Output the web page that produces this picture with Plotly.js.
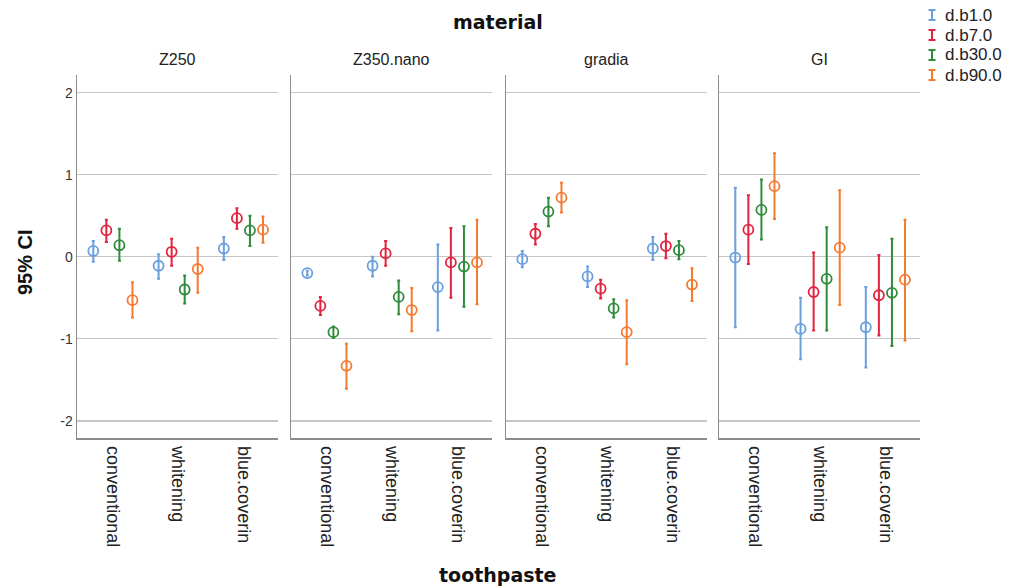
<!DOCTYPE html>
<html>
<head>
<meta charset="utf-8">
<script src="https://cdn.plot.ly/plotly-3.0.1.min.js"></script>
<style>
  html, body { margin: 0; padding: 0; background: #ffffff; }
  #chart { width: 1012px; height: 586px; }
</style>
</head>
<body>
<div id="chart"></div>
<script>
// Panels (material) and categories (toothpaste)
const materials = ['Z250', 'Z350.nano', 'gradia', 'GI'];
const toothpastes = ['conventional', 'whitening', 'blue.coverin'];
const seriesNames = ['d.b1.0', 'd.b7.0', 'd.b30.0', 'd.b90.0'];
const seriesColors = ['#6b9fde', '#e3223f', '#2f8b3c', '#f47a32'];

// Means, ordered material by material, toothpaste within material
const meanB1  = [ 0.07, -0.11,  0.10,  -0.20, -0.11, -0.37,  -0.03, -0.24,  0.10,  -0.01, -0.88, -0.86];
const meanB7  = [ 0.32,  0.06,  0.47,  -0.60,  0.04, -0.07,   0.28, -0.39,  0.13,   0.33, -0.43, -0.47];
const meanB30 = [ 0.14, -0.40,  0.32,  -0.92, -0.49, -0.12,   0.55, -0.63,  0.08,   0.57, -0.27, -0.44];
const meanB90 = [-0.53, -0.15,  0.33,  -1.33, -0.65, -0.07,   0.72, -0.92, -0.34,   0.86,  0.11, -0.28];

// Lower bounds of the 95% CI
const lowB1  = [-0.06, -0.27, -0.04,  -0.23, -0.24, -0.90,  -0.13, -0.37, -0.04,  -0.86, -1.25, -1.35];
const lowB7  = [ 0.18, -0.11,  0.34,  -0.71, -0.11, -0.50,   0.15, -0.51, -0.02,  -0.09, -0.90, -0.96];
const lowB30 = [-0.05, -0.57,  0.13,  -0.99, -0.70, -0.61,   0.37, -0.74, -0.03,   0.21, -0.90, -1.09];
const lowB90 = [-0.74, -0.44,  0.17,  -1.61, -0.91, -0.58,   0.54, -1.31, -0.54,   0.46, -0.59, -1.02];

// Upper bounds of the 95% CI
const highB1  = [ 0.19,  0.03,  0.24,  -0.17,  0.00,  0.15,   0.07, -0.12,  0.24,   0.84, -0.50, -0.37];
const highB7  = [ 0.45,  0.22,  0.59,  -0.49,  0.19,  0.35,   0.40, -0.28,  0.28,   0.75,  0.05,  0.02];
const highB30 = [ 0.34, -0.23,  0.50,  -0.85, -0.29,  0.37,   0.72, -0.52,  0.19,   0.94,  0.36,  0.22];
const highB90 = [-0.31,  0.11,  0.49,  -1.06, -0.38,  0.45,   0.90, -0.53, -0.14,   1.26,  0.81,  0.45];

const yTicks = [-2, -1, 0, 1, 2];

const means = [meanB1, meanB7, meanB30, meanB90];
const lows = [lowB1, lowB7, lowB30, lowB90];
const highs = [highB1, highB7, highB30, highB90];

const W = 1012, H = 586;
const px = v => v / W;          // horizontal pixel -> paper
const py = v => (H - v) / H;    // vertical pixel -> paper

// panel geometry
const panelLeft = [77, 291, 506, 719];
const panelWidth = 201;
const plotTop = 75, plotBottom = 438;
const dodge = 0.2;

const traces = [];
const layout = {
  width: W, height: H,
  margin: { l: 0, r: 0, t: 0, b: 0 },
  paper_bgcolor: '#ffffff',
  plot_bgcolor: 'rgba(0,0,0,0)',
  showlegend: false,
  font: { family: 'Liberation Sans, Arial, sans-serif', color: '#222222' },
  annotations: [],
  shapes: []
};

materials.forEach((mat, m) => {
  const suffix = m === 0 ? '' : String(m + 1);
  const xa = 'xaxis' + suffix, ya = 'yaxis' + suffix;
  layout[xa] = {
    domain: [px(panelLeft[m]), px(panelLeft[m] + panelWidth)],
    anchor: 'y' + suffix,
    range: [-0.55, 2.53],
    tickmode: 'array',
    tickvals: toothpastes.map((_, c) => c),
    ticktext: toothpastes,
    tickangle: 90,
    ticks: '',
    ticklabelstandoff: 3,
    tickfont: { size: 18, color: '#222222', family: 'Liberation Sans, Arial, sans-serif' },
    showgrid: false,
    zeroline: false,
    showline: true,
    linecolor: '#8c8c8c',
    linewidth: 1.5,
    fixedrange: true
  };
  layout[ya] = {
    domain: [py(plotBottom), py(plotTop)],
    anchor: 'x' + suffix,
    range: [-2.21, 2.215],
    tickmode: 'array',
    tickvals: yTicks,
    ticktext: yTicks.map(String),
    showticklabels: m === 0,
    ticks: '',
    tickfont: { size: 14, color: '#333333' },
    showgrid: true,
    gridcolor: '#c6c6c6',
    gridwidth: 1.5,
    zeroline: false,
    showline: true,
    linecolor: '#8c8c8c',
    linewidth: 1.5,
    fixedrange: true
  };

  seriesNames.forEach((name, s) => {
    const idx = toothpastes.map((_, c) => m * toothpastes.length + c);
    const y = idx.map(i => means[s][i]);
    traces.push({
      type: 'scatter',
      mode: 'markers',
      name: name,
      xaxis: 'x' + suffix,
      yaxis: 'y' + suffix,
      x: toothpastes.map((_, c) => c + (s - 1.5) * dodge),
      y: y,
      marker: {
        symbol: 'circle-open',
        size: 10,
        color: seriesColors[s],
        line: { width: 1.8, color: seriesColors[s] }
      },
      error_y: {
        type: 'data',
        symmetric: false,
        array: idx.map(i => highs[s][i] - means[s][i]),
        arrayminus: idx.map(i => means[s][i] - lows[s][i]),
        color: seriesColors[s],
        thickness: 2,
        width: 1.5
      },
      hoverinfo: 'x+y'
    });
  });

  // panel header
  layout.annotations.push({
    xref: 'paper', yref: 'paper',
    x: px(panelLeft[m] + panelWidth / 2), y: py(60),
    xanchor: 'center', yanchor: 'middle',
    text: mat, showarrow: false,
    font: { size: 16, color: '#222222' }
  });
});

// overall titles
layout.annotations.push({
  xref: 'paper', yref: 'paper', x: px(498), y: py(22),
  xanchor: 'center', yanchor: 'middle', showarrow: false,
  text: '<b>material</b>',
  font: { size: 19, family: 'DejaVu Sans, Verdana, sans-serif', color: '#111111' }
});
layout.annotations.push({
  xref: 'paper', yref: 'paper', x: px(498), y: py(575),
  xanchor: 'center', yanchor: 'middle', showarrow: false,
  text: '<b>toothpaste</b>',
  font: { size: 19, family: 'DejaVu Sans, Verdana, sans-serif', color: '#111111' }
});
layout.annotations.push({
  xref: 'paper', yref: 'paper', x: px(25), y: py(262),
  xanchor: 'center', yanchor: 'middle', showarrow: false,
  textangle: -90,
  text: '<b>95% CI</b>',
  font: { size: 20, family: 'Liberation Sans, Arial, sans-serif', color: '#111111' }
});

// legend: error-bar icon plus series name
seriesNames.forEach((name, s) => {
  const cy = 15 + s * 20;
  const cx = 932;
  const line = { color: seriesColors[s], width: 2 };
  layout.shapes.push({ type: 'line', xref: 'paper', yref: 'paper',
    x0: px(cx), x1: px(cx), y0: py(cy - 5), y1: py(cy + 5), line: line });
  layout.shapes.push({ type: 'line', xref: 'paper', yref: 'paper',
    x0: px(cx - 3.5), x1: px(cx + 3.5), y0: py(cy - 5), y1: py(cy - 5), line: line });
  layout.shapes.push({ type: 'line', xref: 'paper', yref: 'paper',
    x0: px(cx - 3.5), x1: px(cx + 3.5), y0: py(cy + 5), y1: py(cy + 5), line: line });
  layout.annotations.push({
    xref: 'paper', yref: 'paper', x: px(943), y: py(cy),
    xanchor: 'left', yanchor: 'middle', showarrow: false,
    text: name,
    font: { size: 17, color: '#222222' }
  });
});

Plotly.newPlot('chart', traces, layout, { displayModeBar: false, staticPlot: true });
</script>
</body>
</html>
